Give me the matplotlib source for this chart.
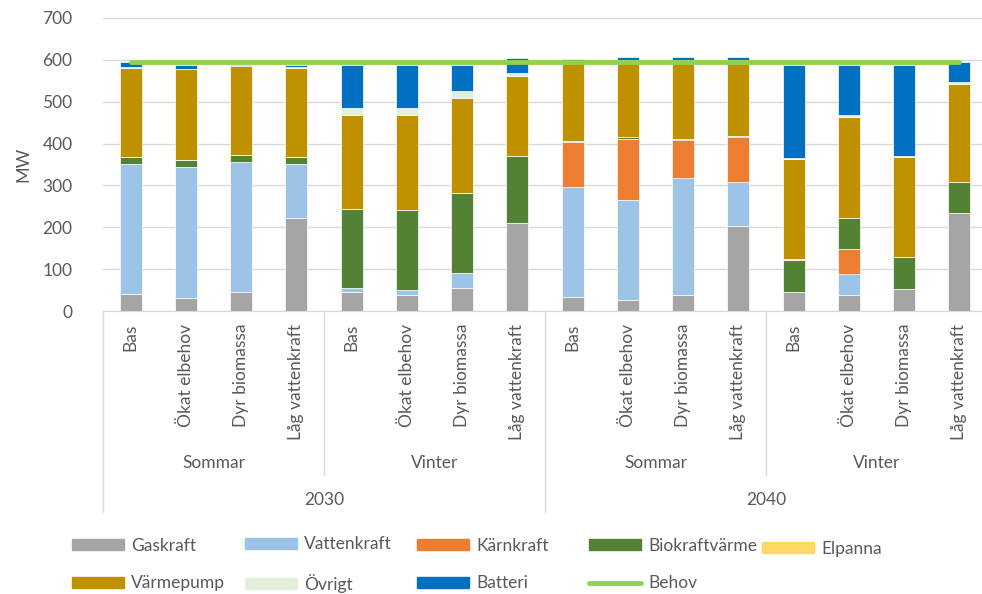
import numpy as np
import matplotlib
matplotlib.use("Agg")
import matplotlib.pyplot as plt
from matplotlib.lines import Line2D
from matplotlib.patches import Patch

plt.rcParams['font.family'] = ['Lato', 'DejaVu Sans']

# Data (MW) per scenario, 16 bars: 2030 Sommar, 2030 Vinter, 2040 Sommar, 2040 Vinter
scenarier = ['Bas', 'Ökat elbehov', 'Dyr biomassa', 'Låg vattenkraft'] * 4
sasonger = ['Sommar', 'Vinter', 'Sommar', 'Vinter']
ar = ['2030', '2040']

gaskraft = [40, 32, 46, 223, 46, 38, 54, 211, 34, 26, 38, 202, 46, 39, 53, 233]
vattenkraft = [312, 313, 311, 129, 8, 13, 37, 0, 263, 240, 279, 107, 0, 49, 0, 0]
karnkraft = [0, 0, 0, 0, 0, 0, 0, 0, 107, 146, 91, 107, 0, 59, 0, 0]
biokraftvarme = [16, 15, 16, 16, 189, 190, 190, 159, 3, 4, 3, 3, 77, 74, 75, 74]
elpanna = [0, 0, 0, 0, 0, 0, 0, 0, 0, 0, 0, 0, 2, 2, 2, 2]
varmepump = [213, 217, 212, 213, 225, 227, 227, 191, 190, 183, 188, 180, 237, 241, 237, 233]
ovrigt = [2, 1, 0, 1, 16, 16, 17, 7, 1, 1, 1, 1, 4, 4, 4, 5]
batteri = [12, 10, 2, 5, 104, 104, 63, 36, 5, 6, 6, 8, 222, 120, 217, 47]
behov = [595] * 16

serier = [
    ('Gaskraft', gaskraft, '#A5A5A5'),
    ('Vattenkraft', vattenkraft, '#9DC3E6'),
    ('Kärnkraft', karnkraft, '#ED7D31'),
    ('Biokraftvärme', biokraftvarme, '#548235'),
    ('Elpanna', elpanna, '#FFD966'),
    ('Värmepump', varmepump, '#BF9000'),
    ('Övrigt', ovrigt, '#E2EFDA'),
    ('Batteri', batteri, '#0070C0'),
]

textfarg = '#595959'
gridfarg = '#D9D9D9'

fig = plt.figure(figsize=(9.82, 5.94), dpi=100)
ax = fig.add_axes([103 / 982, (594 - 311) / 594, 884 / 982, 293 / 594])

x = np.arange(len(scenarier))
botten = np.zeros(len(x))
for namn, varden, farg in serier:
    v = np.array(varden, dtype=float)
    ax.bar(x, v, 0.4, bottom=botten, color=farg, edgecolor='white', linewidth=0.5, zorder=2)
    botten += v

ax.plot(x, behov, color='#92D050', lw=3.5, solid_capstyle='round', zorder=3)

ax.set_xlim(-0.5, 15.5)
ax.set_ylim(0, 700)
ax.set_yticks(range(0, 701, 100))
ax.yaxis.grid(True, color=gridfarg, lw=1, zorder=0)
ax.set_axisbelow(True)
for s in ['left', 'right', 'top']:
    ax.spines[s].set_visible(False)
ax.spines['bottom'].set_color(gridfarg)
ax.tick_params(axis='y', length=0, pad=22, labelsize=12.5, labelcolor=textfarg)
ax.set_xticks(x)
ax.set_xticklabels(scenarier, rotation=90, va='top')
ax.tick_params(axis='x', length=0, pad=9, labelsize=12.5, labelcolor=textfarg)
ax.set_ylabel('MW', fontsize=13, color=textfarg, labelpad=8)

# flernivå-axel
tr = ax.get_xaxis_transform()
for xs, ybot in [(-0.5, -0.686), (3.5, -0.56), (7.5, -0.686), (11.5, -0.56), (15.5, -0.686)]:
    ax.plot([xs, xs], [0, ybot], transform=tr, color=gridfarg, lw=1, clip_on=False)
for i, s in enumerate(sasonger):
    ax.text(4 * i + 1.5, -0.519, s, transform=tr, ha='center', va='center',
            fontsize=12.5, color=textfarg)
for i, a in enumerate(ar):
    ax.text(8 * i + 3.5, -0.645, a, transform=tr, ha='center', va='center',
            fontsize=12.5, color=textfarg)

# legend: en kolumn per legend för fasta kolumnbredder som i Excel
handtag = [Patch(color=f) for _, _, f in serier] + [
    Line2D([0], [0], color='#92D050', lw=3.5, solid_capstyle='round')]
etiketter = [n for n, _, _ in serier] + ['Behov']
kolumner = [[0, 5], [1, 6], [2, 7], [3, 8], [4]]
kol_x = [72, 245, 417, 589, 762]
for idx, kx in zip(kolumner, kol_x):
    ymitt = 564.5 if len(idx) == 2 else 549
    leg = fig.legend([handtag[i] for i in idx], [etiketter[i] for i in idx],
                     loc='center left', bbox_to_anchor=(kx / 982, (594 - ymitt) / 594),
                     frameon=False, fontsize=12.5, labelcolor=textfarg, borderpad=0,
                     borderaxespad=0, handlelength=3.0, handleheight=0.6,
                     handletextpad=0.4, labelspacing=1.25)

fig.savefig('out.png', dpi=100)
